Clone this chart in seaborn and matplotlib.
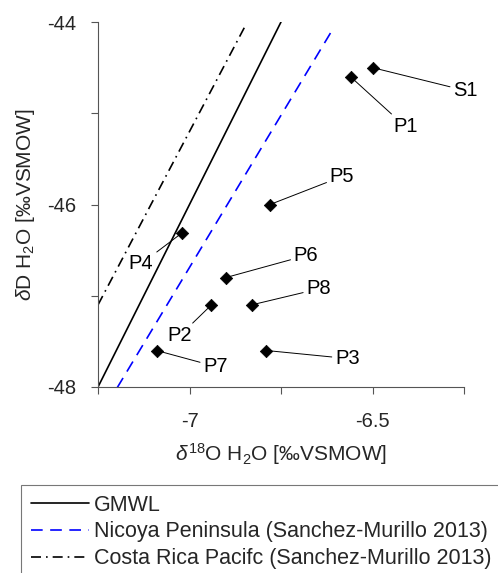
import numpy as np
import pandas as pd
import matplotlib
matplotlib.use("Agg")
import matplotlib.pyplot as plt
from matplotlib.lines import Line2D
import seaborn as sns

# ---- data ----
sample_names = ["S1", "P1", "P5", "P4", "P6", "P8", "P2", "P7", "P3"]
d18O = [-6.50, -6.56, -6.78, -7.02, -6.90, -6.83, -6.94, -7.09, -6.79]
dD = [-44.50, -44.60, -46.00, -46.31, -46.80, -47.10, -47.10, -47.60, -47.60]

# meteoric water lines: slope, intercept, x-range
line_names = ["GMWL", "Nicoya Peninsula (Sanchez-Murillo 2013)",
              "Costa Rica Pacifc (Sanchez-Murillo 2013)"]
line_slopes = [8.0, 6.67, 7.6]
line_intercepts = [10.0, 0.0, 8.0]
line_xmin = [-7.25, -7.198, -7.25]
line_xmax = [-6.75, -6.608, -6.847]

x_ticks = [-7.25, -7.0, -6.75, -6.5, -6.25]
x_ticklabels = ["", "-7", "", "-6.5", ""]
y_ticks = [-48, -47, -46, -45, -44]
y_ticklabels = ["-48", "", "-46", "", "-44"]

# ---- style ----
sns.set_theme(style="ticks")
plt.rcParams["font.family"] = ["Liberation Sans", "DejaVu Sans"]
plt.rcParams["mathtext.fontset"] = "custom"
plt.rcParams["mathtext.rm"] = "Liberation Sans"
plt.rcParams["mathtext.it"] = "Liberation Sans:italic"
plt.rcParams["mathtext.bf"] = "Liberation Sans:bold"

W, H = 498, 573
fig = plt.figure(figsize=(W / 100, H / 100), dpi=100)
ax = fig.add_axes([98 / W, 1 - 387 / H, (464 - 98) / W, (387 - 22) / H])

line_styles = [
    dict(color="black", linestyle="-"),
    dict(color="#0000ff", dashes=(7, 4.5)),
    dict(color="black", dashes=(6, 3, 1, 3)),
]
handles = []
for name, m, b, x0, x1, st in zip(line_names, line_slopes, line_intercepts,
                                  line_xmin, line_xmax, line_styles):
    xs = np.array([x0, x1])
    df = pd.DataFrame({"x": xs, "y": m * xs + b})
    sns.lineplot(data=df, x="x", y="y", ax=ax, lw=1.2, **st)
    handles.append(Line2D([], [], lw=1.2, **st))

pts = pd.DataFrame({"name": sample_names, "x": d18O, "y": dD})
sns.scatterplot(data=pts, x="x", y="y", ax=ax, marker="D", s=40,
                color="black", edgecolor="black", linewidth=0.5, zorder=5)

# label offsets in pixels (layout only)
offsets = {"S1": (93, -23), "P1": (55, -50), "P5": (72, 28), "P4": (-41, -31),
           "P6": (80, 22), "P8": (67, 16), "P2": (-32, -31), "P7": (59, -16),
           "P3": (81, -8)}
for n, x, y in zip(sample_names, d18O, dD):
    dx, dy = offsets[n]
    ax.annotate(n, xy=(x, y), xytext=(dx, dy), textcoords="offset pixels",
                ha="center", va="center", fontsize=14.5, color="black",
                arrowprops=dict(arrowstyle="-", lw=0.7, color="black",
                                shrinkA=0, shrinkB=0))

ax.set_xlim(-7.25, -6.25)
ax.set_ylim(-48, -44)
ax.set_xticks(x_ticks)
ax.set_xticklabels(x_ticklabels)
ax.set_yticks(y_ticks)
ax.set_yticklabels(y_ticklabels)
ax.tick_params(axis="both", direction="out", length=5, width=0.8,
               color="#555555", labelcolor="#262626", labelsize=14.5)
ax.tick_params(axis="x", pad=13)
ax.tick_params(axis="y", pad=11)
for s in ["top", "right"]:
    ax.spines[s].set_visible(False)
for s in ["left", "bottom"]:
    ax.spines[s].set_color("#555555")
    ax.spines[s].set_linewidth(0.8)

ax.set_xlabel(r"$\delta^{18}$O H$_2$O [‰VSMOW]", fontsize=15, color="#262626",
              labelpad=7)
ax.set_ylabel(r"$\delta$D H$_2$O [‰VSMOW]", fontsize=15, color="#262626",
              labelpad=7)

leg = fig.legend(handles, line_names, loc="upper left",
                 bbox_to_anchor=(21 / W, 1 - 485 / H), frameon=True,
                 fancybox=False, edgecolor="#555555", fontsize=15.5,
                 handlelength=2.7, handletextpad=0.25, labelspacing=0.27,
                 borderpad=0.45, borderaxespad=0)
leg.get_frame().set_linewidth(0.8)

fig.savefig("out.png", dpi=100)
